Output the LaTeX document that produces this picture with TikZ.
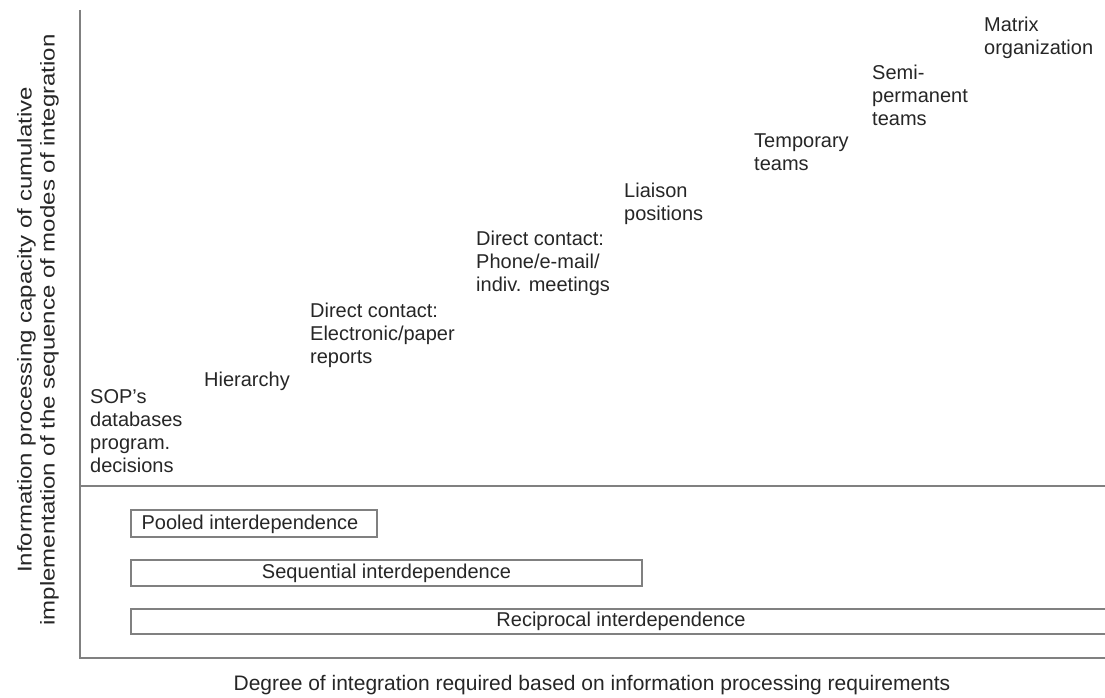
\documentclass[tikz,border=0pt]{standalone}
\usepackage{fontspec}
\setmainfont{Liberation Sans}
\begin{document}
\begin{tikzpicture}[x=1pt,y=-1pt,
  lbl/.style={inner sep=0pt, anchor=north west, align=left, text=black!85,
    font=\fontsize{20}{23}\selectfont},
  axisline/.style={draw=black!50, line width=1.6pt},
  bandbox/.style={draw=black!50, line width=1.3pt},
  bandtext/.style={inner sep=0pt, text=black!85, font=\fontsize{20}{23}\selectfont}]
\useasboundingbox (0,0) rectangle (1105,698);

% axes and divider
\coordinate (top) at (80,10);
\coordinate (origin) at (80,658);
\coordinate (xend) at (1106,658);
\coordinate (divl) at (80,486);
\coordinate (divr) at (1106,486);
\draw[axisline] (top) -- (origin) -- (xend);
\draw[axisline] (divl) -- (divr);

% modes of integration
\node[lbl] (sop)  at (90,389)  {SOP's\\databases\\program.\\decisions};
\node[lbl] (hier) at (204,372) {Hierarchy};
\node[lbl] (dcr)  at (310,303) {Direct contact:\\Electronic/paper\\reports};
\node[lbl] (dcp)  at (476,231) {Direct contact:\\Phone/e-mail/\\indiv. meetings};
\node[lbl] (lia)  at (624,183) {Liaison\\positions};
\node[lbl] (tmp)  at (754,134) {Temporary\\teams};
\node[lbl] (semi) at (872,65)  {Semi-\\permanent\\teams};
\node[lbl] (mat)  at (984,17)  {Matrix\\organization};

% interdependence bands
\draw[bandbox] (131,510) rectangle (377,537);
\node[bandtext] (pool) at (250,524) {Pooled interdependence};
\draw[bandbox] (131,560) rectangle (642,586);
\node[bandtext] (seq) at (386.5,573) {Sequential interdependence};
\draw[bandbox] (131,609) rectangle (1110,634);
\node[bandtext] (rec) at (621,621.5) {Reciprocal interdependence};

% axis titles
\node[bandtext, anchor=base, font=\fontsize{21}{24}\selectfont] (xlab) at (592,690)
  {Degree of integration required based on information processing requirements};
\node[bandtext, rotate=90, align=center] (ylab) at (38,330)
  {\scalebox{1.2}[1]{Information processing capacity of cumulative}\\
   \scalebox{1.2}[1]{implementation of the sequence of modes of integration}};
\end{tikzpicture}
\end{document}
